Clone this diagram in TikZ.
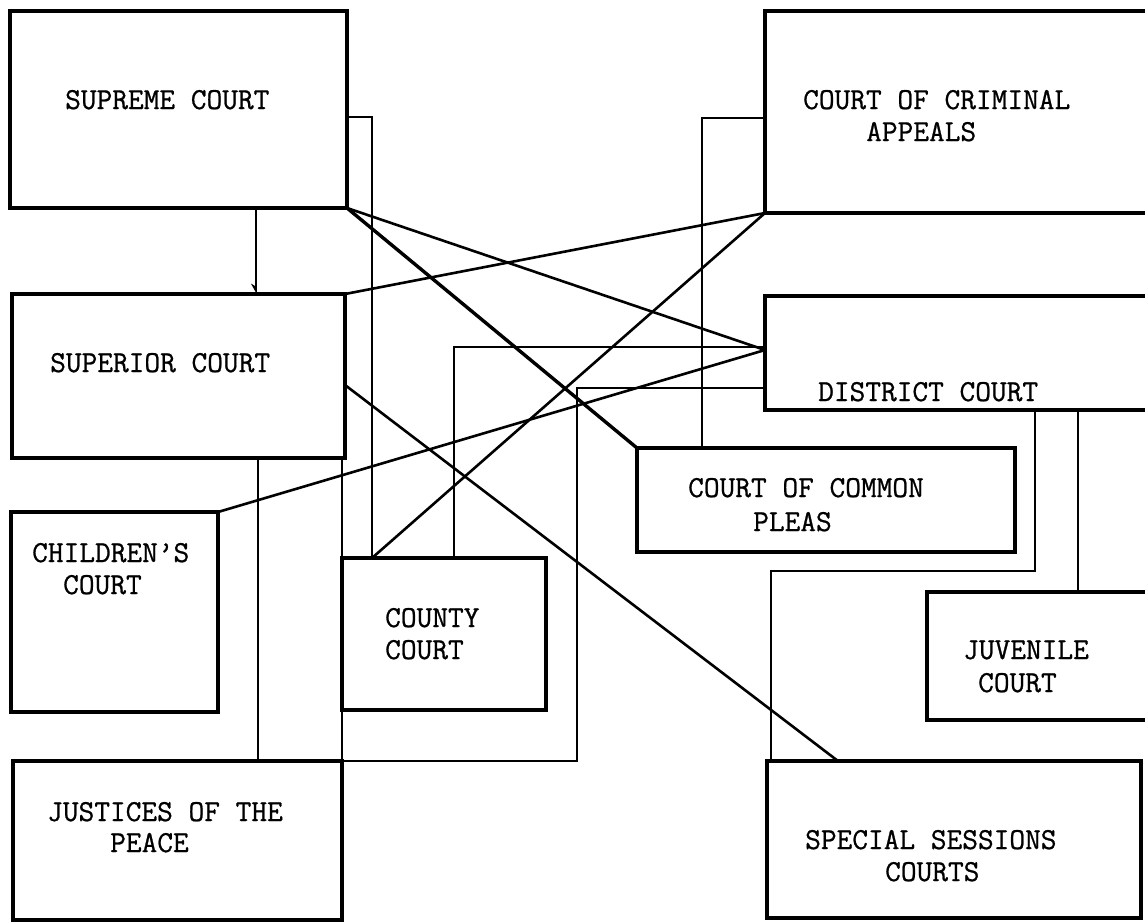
\documentclass[tikz,border=0pt]{standalone}
\usepackage{fontspec}
\newfontfamily\twfont{Latin Modern Mono}[FakeBold=0.8]
\usetikzlibrary{arrows.meta,calc}
\begin{document}
\begin{tikzpicture}[x=1pt,y=-1pt,
  box/.style={draw, line width=3.1pt, inner sep=0pt, outer sep=0pt, anchor=north west},
  obox/.style={inner sep=0pt, outer sep=0pt, anchor=north west},
  boxline/.style={line width=3.1pt},
  lbl/.style={anchor=base west, inner sep=0pt, font=\twfont\fontsize{30.5}{36}\selectfont},
  conn/.style={line width=2.6pt},
  ]
\useasboundingbox (0,0) rectangle (1145,922);
\fill[white] (0,0) rectangle (1145,922);
% boxes
\node[box, minimum width=337, minimum height=197] (sup) at (10,11) {};
\node[box, minimum width=333, minimum height=164] (supr) at (12,294) {};
\node[box, minimum width=207, minimum height=200] (chil) at (11,512) {};
\node[box, minimum width=329, minimum height=159] (jus) at (13,761) {};
\node[box, minimum width=204, minimum height=152] (cty) at (342,558) {};
\node[box, minimum width=378, minimum height=104] (cp) at (637,448) {};
\node[box, minimum width=374, minimum height=157] (spec) at (767,761) {};
\node[obox, minimum width=380, minimum height=202] (cca) at (765,11) {};
\node[obox, minimum width=380, minimum height=114] (dist) at (765,296) {};
\node[obox, minimum width=218, minimum height=128] (juv) at (927,592) {};
\draw[boxline] (cca.north east) -- (cca.north west) -- (cca.south west) -- (cca.south east);
\draw[boxline] (dist.north east) -- (dist.north west) -- (dist.south west) -- (dist.south east);
\draw[boxline] (juv.north east) -- (juv.north west) -- (juv.south west) -- (juv.south east);
% labels
\node[lbl] (tsup) at (65,109) {SUPREME COURT};
\node[lbl] (tcca1) at (803,109) {COURT OF CRIMINAL};
\node[lbl] (tcca2) at (866,141) {APPEALS};
\node[lbl] (tsupr) at (50,372) {SUPERIOR COURT};
\node[lbl] (tdist) at (818,401) {DISTRICT COURT};
\node[lbl] (tcp1) at (688,497) {COURT OF COMMON};
\node[lbl] (tcp2) at (753,531) {PLEAS};
\node[lbl] (tch1) at (32,562) {CHILDREN’S};
\node[lbl] (tch2) at (63,594) {COURT};
\node[lbl] (tct1) at (385,627) {COUNTY};
\node[lbl] (tct2) at (385,659) {COURT};
\node[lbl] (tjv1) at (963,659) {JUVENILE};
\node[lbl] (tjv2) at (978,692) {COURT};
\node[lbl] (tjp1) at (47,821) {JUSTICES OF THE};
\node[lbl] (tjp2) at (110,852) {PEACE};
\node[lbl] (tss1) at (805,849) {SPECIAL SESSIONS};
\node[lbl] (tss2) at (885,881) {COURTS};
% orthogonal connectors
\draw[conn, -{Stealth[harpoon, swap, length=9pt, width=10pt]}] (sup.south west) ++(246,0) coordinate (a1) -- (a1 |- supr.north);
\draw[conn] (sup.north east) ++(0,106) -- ++(25,0) coordinate (a2) -- (a2 |- cty.north);
\draw[conn] (cca.north west) ++(0,107) -- ++(-63,0) coordinate (a3) -- (a3 |- cp.north);
\draw[conn] (dist.north west) ++(0,51) -- ++(-311,0) coordinate (a4) -- (a4 |- cty.north);
\draw[conn] (dist.north west) ++(0,92) -- ++(-188,0) coordinate (a5) -- (a5 |- jus.north) -- (jus.north east);
\draw[conn] (supr.south west) ++(246,0) coordinate (a6) -- (a6 |- jus.north);
\draw[conn] (cty.north west |- supr.south) -- (cty.north west);
\draw[conn] (cty.south west) -- (jus.north east);
\draw[conn] (dist.south west) ++(270,0) -- ++(0,161) -- ++(-264,0) coordinate (a9) -- (a9 |- spec.north);
\draw[conn] (dist.south west) ++(313,0) coordinate (a10) -- (a10 |- juv.north);
% diagonal connectors
\coordinate (dw) at ($(dist.north west)+(0,54)$);
\draw[conn] (sup.south east) -- (dw);
\draw[conn, line width=3.4pt] (sup.south east) -- (cp.north west);
\draw[conn] (supr.north east) -- (cca.south west);
\draw[conn] (a2 |- cty.north) -- (cca.south west);
\draw[conn] (chil.north east) -- (dw);
\draw[conn] (supr.north east) ++(0,91) -- ($(spec.north west)+(71,0)$);
\end{tikzpicture}
\end{document}
